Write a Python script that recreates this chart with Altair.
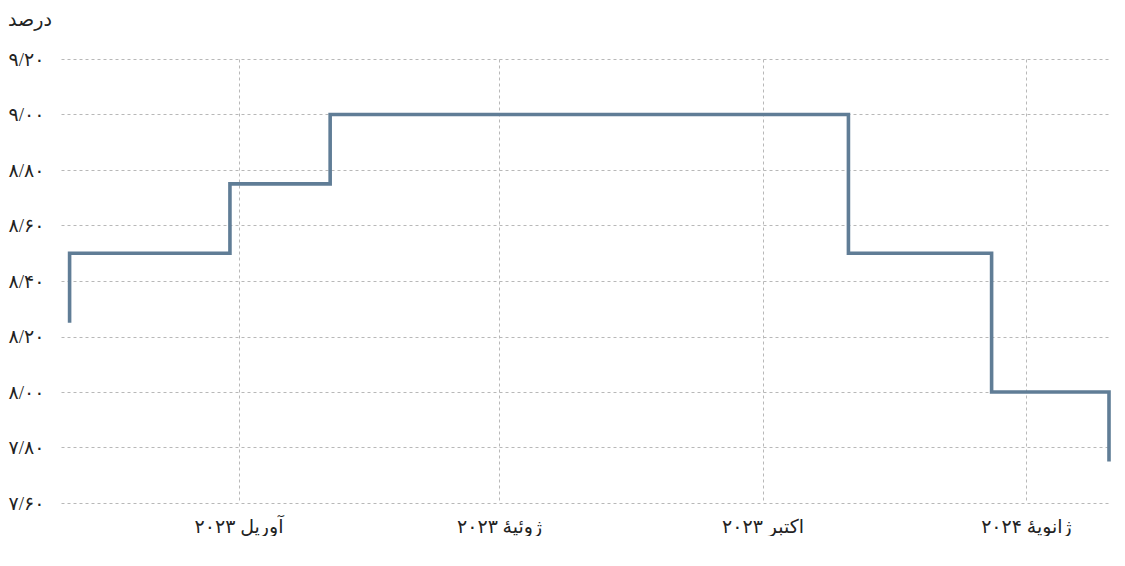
import altair as alt
import pandas as pd

# Step series (date of change, value)
dates = ["2023-02-01", "2023-02-01", "2023-03-29", "2023-05-03",
         "2023-10-31", "2023-12-20", "2024-01-30"]
values = [8.25, 8.50, 8.75, 9.00, 8.50, 8.00, 7.75]

y_ticks = [7.6, 7.8, 8.0, 8.2, 8.4, 8.6, 8.8, 9.0, 9.2]
y_tick_labels = ["۷/۶۰", "۷/۸۰", "۸/۰۰", "۸/۲۰", "۸/۴۰", "۸/۶۰", "۸/۸۰", "۹/۰۰", "۹/۲۰"]

x_ticks = ["2023-04-01", "2023-07-01", "2023-10-01", "2024-01-01"]
x_tick_labels = ["آوریل ۲۰۲۳", "ژوئیهٔ ۲۰۲۳", "اکتبر ۲۰۲۳", "ژانویهٔ ۲۰۲۴"]

title_text = "درصد"

df = pd.DataFrame({"date": pd.to_datetime(dates), "value": values, "idx": range(len(values))})

FONT = "Liberation Serif, DejaVu Sans, Noto Sans"

y_map = "{" + ",".join(f"'{v:.1f}':'{l}'" for v, l in zip(y_ticks, y_tick_labels)) + "}"
y_label_expr = f"{y_map}[format(datum.value, '.1f')]"

x_ms = [int(pd.Timestamp(d).value // 10**6) for d in x_ticks]
x_map = "{" + ",".join(f"'{m}':'{l}'" for m, l in zip(x_ms, x_tick_labels)) + "}"
x_label_expr = f"{x_map}[toString(+datum.value)]"

x_values = [alt.DateTime(year=int(d[:4]), month=int(d[5:7]), date=int(d[8:10])) for d in x_ticks]

chart = alt.Chart(df).mark_line(
    interpolate="step-after", color="#607d96", strokeWidth=3.6
).encode(
    x=alt.X("date:T",
            scale=alt.Scale(domain=[alt.DateTime(year=2023, month=1, date=29),
                                    alt.DateTime(year=2024, month=1, date=30)]),
            axis=alt.Axis(title=None, values=x_values, labelExpr=x_label_expr,
                          grid=True, ticks=False, domain=False, labelPadding=14,
                          labelFontSize=19, labelFont=FONT, labelColor="#222222",
                          gridDash=[3, 3], gridColor="#b8b8b8", gridWidth=1)),
    y=alt.Y("value:Q",
            scale=alt.Scale(domain=[7.6, 9.2], nice=False, zero=False),
            axis=alt.Axis(title=None, values=y_ticks, labelExpr=y_label_expr,
                          grid=True, ticks=False, domain=False, labelPadding=17,
                          labelFontSize=19, labelFont=FONT, labelColor="#222222",
                          gridDash=[3, 3], gridColor="#b8b8b8", gridWidth=1)),
    order="idx:Q",
).properties(
    width=1048,
    height=444,
    padding={"left": 0, "top": 3, "right": 0, "bottom": 0},
    title=alt.TitleParams(title_text, anchor="start", font=FONT, fontSize=19,
                          fontWeight="normal", color="#222222", offset=20),
).configure_view(stroke=None)

chart.save("out.html", embed_options={"renderer": "svg", "actions": False})
